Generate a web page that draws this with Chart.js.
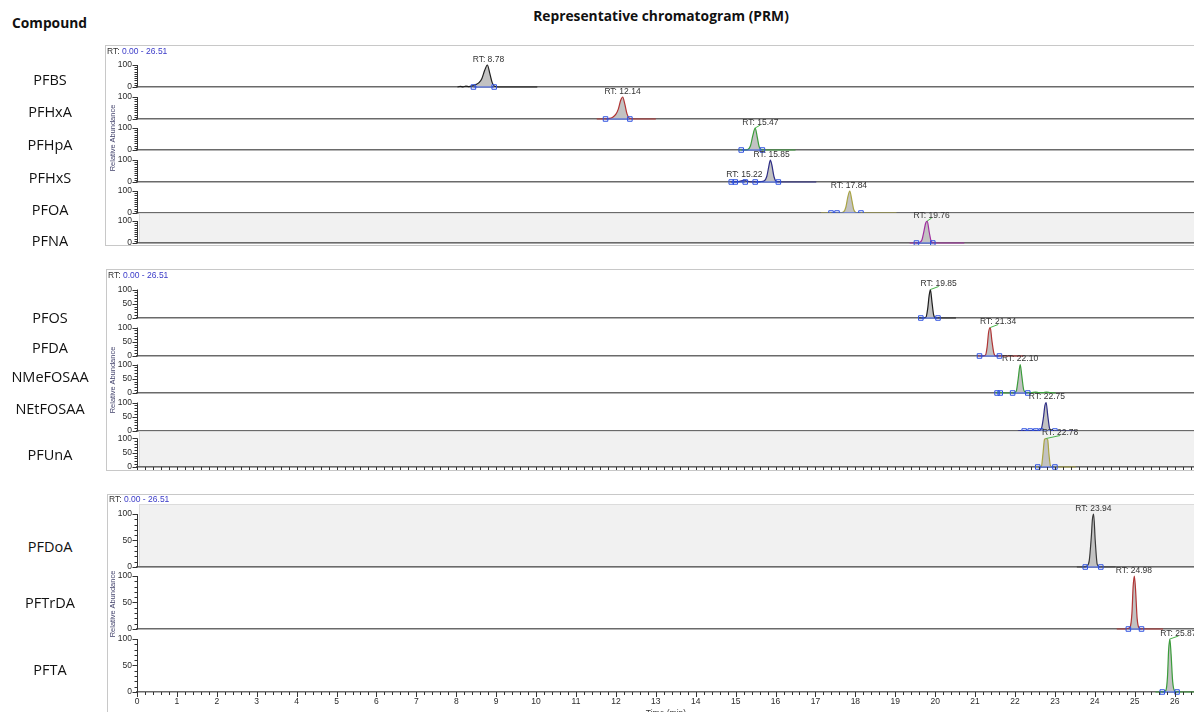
<!DOCTYPE html>
<html>
<head>
<meta charset="utf-8">
<title>Representative chromatogram (PRM)</title>
<script src="https://cdn.jsdelivr.net/npm/chart.js@4.4.0/dist/chart.umd.min.js"></script>
<style>
  html, body { margin: 0; padding: 0; width: 1194px; height: 712px; overflow: hidden; background: #fff; }
  body { position: relative; font-family: "Open Sans", "Noto Sans", sans-serif; }
  .txt { position: absolute; white-space: nowrap; line-height: 1; }
  .head { font-weight: 700; font-size: 13.8px; color: #111; }
  .cmp { font-size: 14.5px; color: #111; }
  .small { font-family: "Liberation Sans", Arial, sans-serif; font-size: 8.5px; color: #333; }
  .ra { font-family: "Liberation Sans", Arial, sans-serif; font-size: 7.5px; color: #45456e; }
  .blue { color: #3a3ac8; }
  .panel { position: absolute; border: 1px solid #c8c8c8; border-right: none; overflow: hidden; background: #fff; }
  .panel canvas { position: absolute; }
</style>
</head>
<body>
<script>
// ---- data ----
const compounds = ['PFBS', 'PFHxA', 'PFHpA', 'PFHxS', 'PFOA', 'PFNA',
                   'PFOS', 'PFDA', 'NMeFOSAA', 'NEtFOSAA', 'PFUnA',
                   'PFDoA', 'PFTrDA', 'PFTA'];

const rtRange = [0.00, 26.51];

// retention time labels per trace
const rtLabels = [[8.78], [12.14], [15.47], [15.85, 15.22], [17.84], [19.76],
                  [19.85], [21.34], [22.10], [22.75], [22.78],
                  [23.94], [24.98], [25.87]];

// trace time points (min)
const traceTimes = [
  [8.03, 8.10, 8.17, 8.24, 8.32, 8.42, 8.50, 8.57, 8.64, 8.71, 8.78, 8.84, 8.90, 8.96, 9.05, 9.40, 10.03],
  [11.52, 11.70, 11.82, 11.92, 12.00, 12.06, 12.12, 12.17, 12.22, 12.28, 12.34, 12.45, 13.00],
  [15.07, 15.20, 15.30, 15.37, 15.43, 15.49, 15.54, 15.59, 15.66, 15.80, 16.50],
  [14.87, 15.00, 15.10, 15.17, 15.22, 15.28, 15.38, 15.50, 15.62, 15.72, 15.78, 15.83, 15.87, 15.91, 15.96, 16.02, 16.15, 17.02],
  [17.14, 17.40, 17.60, 17.70, 17.76, 17.81, 17.86, 17.91, 17.96, 18.02, 18.15, 19.03],
  [19.36, 19.50, 19.60, 19.67, 19.72, 19.76, 19.80, 19.85, 19.90, 19.96, 20.10, 20.73],
  [19.57, 19.70, 19.77, 19.81, 19.85, 19.88, 19.92, 19.96, 20.01, 20.10, 20.52],
  [21.05, 21.18, 21.26, 21.30, 21.34, 21.38, 21.42, 21.47, 21.52, 21.62, 22.21],
  [21.52, 21.58, 21.66, 21.80, 21.96, 22.03, 22.08, 22.13, 22.17, 22.22, 22.28, 22.40, 22.52, 22.60, 22.70, 22.79, 22.88, 23.02],
  [22.07, 22.20, 22.30, 22.40, 22.50, 22.58, 22.66, 22.71, 22.75, 22.78, 22.82, 22.87, 22.95, 23.10, 23.52],
  [22.49, 22.60, 22.66, 22.70, 22.74, 22.78, 22.82, 22.85, 22.89, 22.95, 23.10, 23.52],
  [23.55, 23.70, 23.80, 23.86, 23.91, 23.94, 23.97, 24.01, 24.06, 24.12, 24.52],
  [24.55, 24.78, 24.88, 24.93, 24.96, 24.99, 25.02, 25.06, 25.11, 25.20, 25.71],
  [25.52, 25.70, 25.78, 25.82, 25.85, 25.88, 25.91, 25.95, 26.00, 26.10, 26.51]
];

// relative abundance (%) at those points
const traceValues = [
  [0, 3, 1, 4, 2, 7, 12, 20, 38, 75, 100, 62, 20, 3, 0, 0, 0],
  [0, 0, 2, 8, 22, 45, 85, 100, 70, 22, 3, 0, 0],
  [0, 0, 2, 18, 65, 100, 60, 15, 1, 0, 0],
  [0, 1, 3, 6, 8, 4, 1, 1, 2, 6, 25, 70, 100, 75, 25, 3, 0, 0],
  [0, 0, 1, 4, 25, 72, 100, 60, 15, 2, 0, 0],
  [0, 0, 2, 15, 55, 90, 100, 50, 8, 0, 0, 0],
  [0, 0, 3, 30, 80, 100, 55, 12, 0, 0, 0],
  [0, 0, 3, 30, 85, 100, 55, 10, 0, 0, 0],
  [0, 3, 1, 0, 0, 6, 50, 100, 60, 10, 1, 1, 3, 1, 1, 3, 1, 0],
  [0, 1, 2, 1, 2, 1, 8, 45, 90, 100, 55, 8, 0, 0, 0],
  [0, 0, 2, 45, 97, 100, 95, 45, 4, 0, 0, 0],
  [0, 0, 2, 12, 55, 90, 100, 50, 5, 0, 0],
  [0, 0, 3, 30, 80, 100, 75, 20, 2, 0, 0],
  [0, 0, 3, 28, 80, 100, 72, 20, 2, 0, 0]
];

// integration boundary markers (min), grouped in connected baseline segments
const boundaryTimes = [
  [[8.43, 8.95]],
  [[11.74, 12.35]],
  [[15.14, 15.67]],
  [[14.89, 14.99, 15.24], [15.49, 16.07]],
  [[17.39, 17.54, 18.14]],
  [[19.53, 19.94]],
  [[19.64, 20.07]],
  [[21.11, 21.61]],
  [[21.55, 21.63], [21.94, 22.32]],
  [[22.23, 22.38, 22.52, 22.65, 23.00]],
  [[22.57, 23.00]],
  [[23.76, 24.15]],
  [[24.84, 25.17]],
  [[25.69, 26.06]]
];

const yTickLabels = [[0, 100], [0, 50, 100], [0, 50, 100]];
const xTickStep = 0.2;

// ---- styles / layout ----
const traceColors = ['#1e1e1e', '#b03434', '#3a9c3a', '#2e2e86', '#a9a444', '#a02ea0',
                     '#1e1e1e', '#b03434', '#3a9c3a', '#2e2e86', '#a9a444',
                     '#383838', '#b03434', '#3a9c3a'];
const labelNudge = [[1], [1], [6], [2, 0], [0], [6], [9.5], [9.5], [1], [2], [14], [1], [0], [9]];
const compoundY = [80, 112, 145, 178, 210, 241, 318, 348, 377, 409, 455, 547, 603, 670];

const panelGeom = [
  { left: 105, top: 45, bottom: 246, firstTop: 56, bases: [87, 119, 150, 182, 213, 243], unit: 22, xTicks: false, shaded: 5, rtY: 51, raY: 138 },
  { left: 106, top: 269, bottom: 471, firstTop: 280, bases: [318, 356, 393, 431, 467], unit: 28.5, xTicks: true, shaded: 4, rtY: 275, raY: 380 },
  { left: 107, top: 494, bottom: 780, firstTop: 504, bases: [567, 629, 692], unit: 53, xTicks: true, shaded: 0, rtY: 498.5, raY: 604 }
];

const canvasLeft = 100, canvasWidth = 1100, yAxisWidth = 37;
const smallFont = '"Liberation Sans", Arial, sans-serif';

Chart.defaults.font.family = smallFont;
Chart.defaults.font.size = 8.5;
Chart.defaults.color = '#2a2a2a';

function addText(html, x, y, cls, align, rotate) {
  const d = document.createElement('div');
  d.className = 'txt ' + cls;
  d.innerHTML = html;
  d.style.left = x + 'px';
  d.style.top = y + 'px';
  let tf = align === 'left' ? 'translate(0,-50%)' : 'translate(-50%,-50%)';
  if (rotate) tf += ' rotate(-90deg)';
  d.style.transform = tf;
  document.body.appendChild(d);
  return d;
}

function stripPlugin(i, g) {
  return {
    id: 'strip' + i,
    beforeDraw(chart) {
      if (!g.shaded) return;
      const a = chart.chartArea, c = chart.ctx;
      c.save();
      c.fillStyle = '#f1f1f1';
      c.fillRect(a.left + 2, a.top + 1, a.right - a.left, a.bottom - a.top - 1);
      c.strokeStyle = '#dcdcdc';
      c.lineWidth = 1;
      c.strokeRect(a.left + 2.5, a.top + 0.5, a.right - a.left, a.bottom - a.top);
      c.restore();
    },
    afterDraw(chart) {
      const c = chart.ctx, xs = chart.scales.x, ys = chart.scales.y;
      c.save();
      // y axis with major and minor tick marks
      c.strokeStyle = '#333';
      c.lineWidth = 1;
      const ax = Math.round(ys.right) + 0.5;
      c.beginPath();
      c.moveTo(ax, ys.getPixelForValue(0));
      c.lineTo(ax, ys.getPixelForValue(100));
      ys.ticks.forEach(t => {
        const y = Math.round(ys.getPixelForValue(t.value)) + 0.5;
        const len = t.label ? 5 : 3;
        c.moveTo(ax - len, y);
        c.lineTo(ax, y);
      });
      if (g.xTicks) {
        const by = xs.top;
        xs.ticks.forEach(t => {
          const x = Math.round(xs.getPixelForValue(t.value)) + 0.5;
          const len = t.label ? 5 : 3;
          c.moveTo(x, by);
          c.lineTo(x, by + len);
        });
      }
      c.stroke();

      // RT labels over the peaks
      c.font = '8.5px ' + smallFont;
      c.textAlign = 'center';
      c.textBaseline = 'alphabetic';
      rtLabels[i].forEach((rt, k) => {
        let best = null;
        traceTimes[i].forEach((t, n) => {
          if (Math.abs(t - rt) <= 0.07 && (!best || traceValues[i][n] > best.y)) best = { x: t, y: traceValues[i][n] };
        });
        if (!best) return;
        const nudge = labelNudge[i][k] || 0;
        const px = xs.getPixelForValue(rt) + nudge;
        const py = ys.getPixelForValue(best.y);
        if (nudge >= 5) {
          c.strokeStyle = '#4bb54b';
          c.beginPath();
          c.moveTo(xs.getPixelForValue(best.x), py);
          c.lineTo(px, py - 3);
          c.stroke();
        }
        c.fillStyle = '#333';
        c.fillText('RT: ' + rt.toFixed(2), px, py - 3.5);
      });
      c.restore();
    }
  };
}

function makeStrip(cv, i, g) {
  const pts = traceTimes[i].map((t, k) => ({ x: t, y: traceValues[i][k] }));
  const apex = pts.reduce((a, b) => (b.y > a.y ? b : a));
  const segs = boundaryTimes[i];
  const win = segs.find(s => s[0] <= apex.x && apex.x <= s[s.length - 1]) || segs[0];
  const area = pts.filter(q => q.x >= win[0] && q.x <= win[win.length - 1]);
  const marks = [];
  segs.forEach(s => {
    s.forEach(t => marks.push({ x: t, y: 0 }));
    marks.push({ x: s[s.length - 1] + 0.01, y: null });
  });

  return new Chart(cv, {
    type: 'line',
    data: {
      datasets: [
        { data: marks, borderColor: '#2f52e0', borderWidth: 1, pointStyle: 'rect', pointRadius: 3.2,
          pointBorderWidth: 1, pointBorderColor: '#2f52e0', pointBackgroundColor: 'rgba(0,0,0,0)',
          spanGaps: false, clip: 6 },
        { data: pts, borderColor: traceColors[i], borderWidth: 1.2, pointRadius: 0,
          cubicInterpolationMode: 'monotone', clip: 6 },
        { data: area, borderWidth: 0, borderColor: 'rgba(0,0,0,0)', backgroundColor: '#c2c2c2',
          fill: 'origin', pointRadius: 0, cubicInterpolationMode: 'monotone', clip: 6 }
      ]
    },
    options: {
      responsive: false,
      animation: false,
      devicePixelRatio: 1,
      events: [],
      layout: { padding: { top: g.padT, bottom: g.padB, left: 0, right: 2 } },
      plugins: { legend: { display: false }, tooltip: { enabled: false } },
      scales: {
        x: {
          type: 'linear', min: rtRange[0], max: rtRange[1],
          afterFit: s => { s.height = g.xH; s.paddingLeft = 0; s.paddingRight = 0; },
          ticks: {
            display: g.xTicks, stepSize: xTickStep, includeBounds: false, autoSkip: false,
            maxRotation: 0, padding: 5,
            callback: v => { const r = Math.round(v * 10) / 10; return Number.isInteger(r) ? String(r) : ''; }
          },
          grid: { display: false, drawTicks: false },
          border: { display: true, color: '#6a6a6a', width: 1.5 }
        },
        y: {
          min: 0, max: g.yMax,
          afterBuildTicks: s => { s.ticks = s.ticks.filter(t => t.value <= 100); },
          afterFit: s => { s.width = yAxisWidth; s.paddingTop = 0; s.paddingBottom = 0; },
          ticks: {
            stepSize: 10, includeBounds: false, autoSkip: false, padding: 5,
            callback: v => (g.yLabels.includes(v) ? String(v) : '')
          },
          grid: { display: false, drawTicks: false },
          border: { display: false }
        }
      }
    },
    plugins: [stripPlugin(i, g)]
  });
}

// ---- headings ----
addText('Compound', 12, 23, 'head', 'left');
addText('Representative chromatogram (PRM)', 661, 16, 'head');

// ---- panels with stacked traces ----
let row = 0;
panelGeom.forEach((pg, p) => {
  const box = document.createElement('div');
  box.className = 'panel';
  box.style.left = pg.left + 'px';
  box.style.top = pg.top + 'px';
  box.style.width = (1300 - pg.left) + 'px';
  box.style.height = (pg.bottom - pg.top - 2) + 'px';
  document.body.appendChild(box);

  pg.bases.forEach((base, r) => {
    const i = row++;
    const top = r === 0 ? pg.firstTop : pg.bases[r - 1];
    const last = r === pg.bases.length - 1;
    const withX = last && pg.xTicks;
    const g = {
      padT: 10, padB: withX ? 0 : 7, xH: withX ? 20 : 0,
      yMax: 100 * (base - top) / pg.unit,
      yLabels: yTickLabels[p], xTicks: withX, shaded: r === pg.shaded
    };
    const cv = document.createElement('canvas');
    cv.width = canvasWidth;
    cv.height = base - top + g.padT + g.padB + g.xH;
    cv.style.left = (canvasLeft - pg.left - 1) + 'px';
    cv.style.top = (top - g.padT - pg.top - 1) + 'px';
    box.appendChild(cv);
    makeStrip(cv, i, g);
  });

  addText('RT: <span class="blue">' + rtRange[0].toFixed(2) + ' - ' + rtRange[1].toFixed(2) + '</span>',
          pg.left + 2, pg.rtY, 'small', 'left');
  addText('Relative Abundance', 113, pg.raY, 'ra', 'center', true);
});

// ---- compound names ----
compounds.forEach((name, i) => {
  addText(name, 50, compoundY[i], 'cmp');
});

addText('Time (min)', 666, 712.5, 'small');
</script>
</body>
</html>
